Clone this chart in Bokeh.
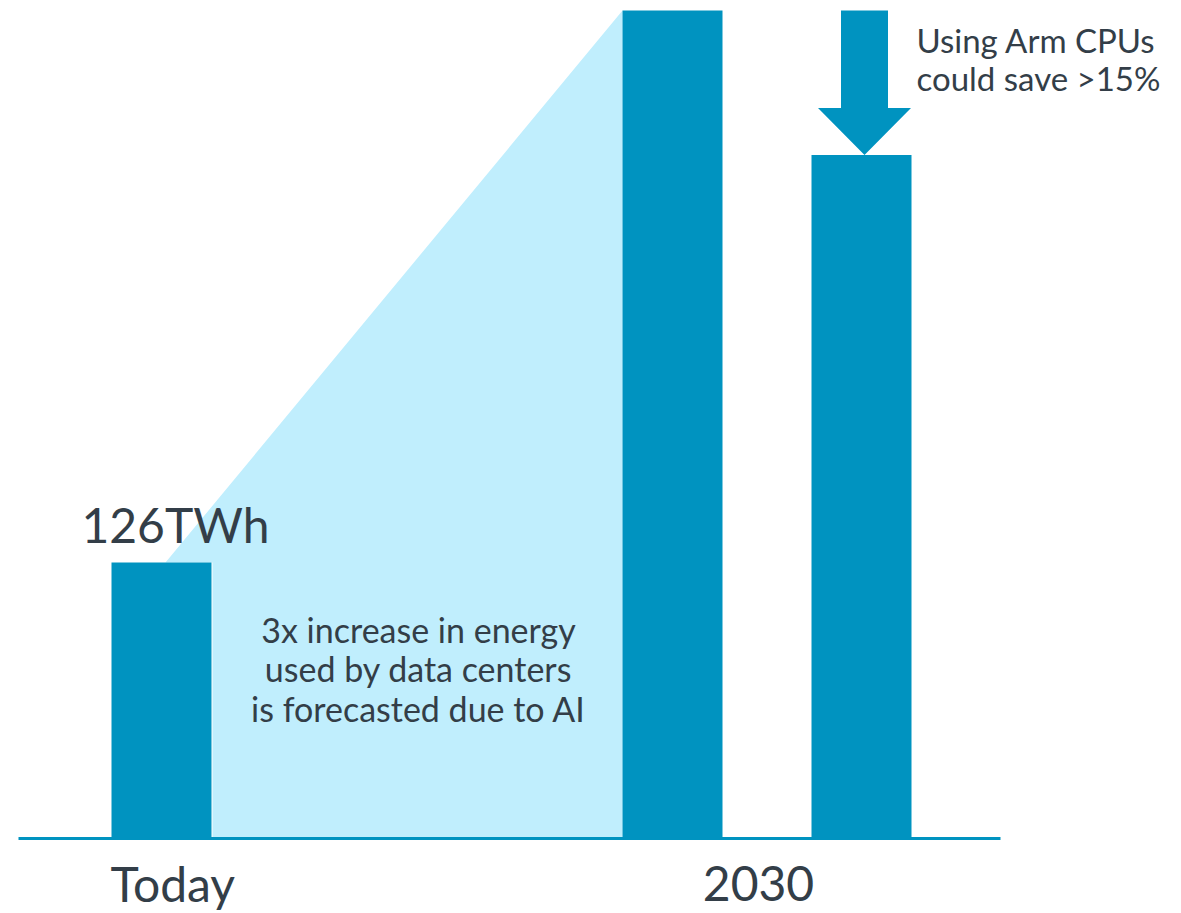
from bokeh.plotting import figure
from bokeh.models import Range1d
from bokeh.core.properties import value
from bokeh.embed import file_html
from bokeh.resources import INLINE

# ---- data ----
categories = ["Today", "2030", "2030 with Arm"]
energy_twh = [126, 378, 312]
x_pos = [1.61, 6.72, 8.61]
axis_labels = ["Today", "2030"]
value_label = "126TWh"
center_note = ["3x increase in energy", "used by data centers", "is forecasted due to AI"]
arm_note = ["Using Arm CPUs", "could save >15%"]

BAR = "#0093C0"
LIGHT = "#C0EEFD"
TXT = "#333E48"
FONT = value("Lato")
BW = 1.0

p = figure(width=1181, height=913, output_backend="svg", toolbar_location=None,
           x_range=Range1d(0, 11.81), y_range=Range1d(-34.24, 382.56),
           min_border=0, outline_line_color=None)
p.axis.visible = False
p.grid.visible = False
p.background_fill_color = "white"
p.border_fill_color = "white"

# light growth area between today and 2030
x0 = x_pos[0] + 0.04
xr = x_pos[1] - BW / 2
xl = x_pos[0] + BW / 2 + 0.01
p.patch([x0, xr, xr, xl, xl], [energy_twh[0], energy_twh[1], 0, 0, energy_twh[0]],
        fill_color=LIGHT, line_color=None)

# baseline
p.line([0.18, 10.00], [0, 0], line_color=BAR, line_width=3)

# bars
p.vbar(x=x_pos, top=energy_twh, bottom=0, width=BW, fill_color=BAR, line_color=None)

# arrow from 2030 level down to Arm level
cx = x_pos[2] + 0.03
tip = energy_twh[2]
head_top = tip + 21.5
shaft_top = energy_twh[1]
p.patch([cx - 0.235, cx + 0.235, cx + 0.235, cx + 0.465, cx, cx - 0.465, cx - 0.235],
        [shaft_top, shaft_top, head_top, head_top, tip, head_top, head_top],
        fill_color=BAR, line_color=None)

# labels
p.text(x=[x_pos[0] + 0.14], y=[energy_twh[0] + 17.2], text=[value_label], text_font=FONT,
       text_font_size="48px", text_color=TXT, text_align="center", text_baseline="alphabetic")
p.text(x=[x_pos[0] - 0.51, 7.58], y=[-20.4, -20.4], text=axis_labels, text_font=FONT,
       text_font_size="48px", text_color=TXT, text_align=["left", "center"],
       text_baseline="alphabetic")
p.text(x=[4.18] * 3, y=[95.4, 77.6, 59.3], text=center_note, text_font=FONT,
       text_font_size="34px", text_color=TXT, text_align="center", text_baseline="alphabetic")
p.text(x=[9.16] * 2, y=[364.6, 347.2], text=arm_note, text_font=FONT,
       text_font_size="33px", text_color=TXT, text_align="left", text_baseline="alphabetic")

open("out.html", "w").write(file_html(p, INLINE))
